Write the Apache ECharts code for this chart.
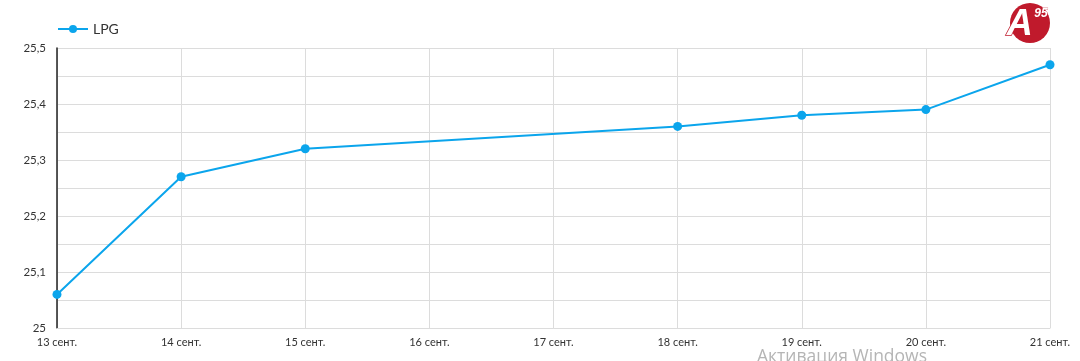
<!DOCTYPE html>
<html>
<head>
<meta charset="utf-8">
<script src="https://cdn.jsdelivr.net/npm/echarts@6/dist/echarts.min.js"></script>
<style>
html,body{margin:0;padding:0;background:#fff;}
#c{width:1080px;height:361px;}
</style>
</head>
<body>
<div id="c"></div>
<script>
var categories = ['13 сент.','14 сент.','15 сент.','16 сент.','17 сент.','18 сент.','19 сент.','20 сент.','21 сент.'];
var lpgValues = [25.06, 25.27, 25.32, null, null, 25.36, 25.38, 25.39, 25.47];
var seriesName = 'LPG';

var chart = echarts.init(document.getElementById('c'));
chart.setOption({
  animation: false,
  textStyle: {fontFamily: 'Lato, "Open Sans", sans-serif'},
  legend: {
    left: 52, top: 17,
    itemWidth: 30, itemHeight: 10,
    itemGap: 6,
    textStyle: {fontSize: 14, color: '#333', fontFamily: 'Lato, sans-serif'},
    data: [seriesName]
  },
  grid: {left: 57, right: 30, top: 48, bottom: 33, containLabel: false},
  xAxis: {
    type: 'category',
    data: categories,
    boundaryGap: false,
    axisLine: {show: true, lineStyle: {color: '#dcdcdc'}},
    axisTick: {show: false},
    axisLabel: {color: '#333', fontSize: 11, margin: 9},
    splitLine: {show: true, lineStyle: {color: '#dcdcdc', width: 1}}
  },
  yAxis: {
    type: 'value',
    min: 25, max: 25.5, interval: 0.05,
    axisLine: {show: true, lineStyle: {color: '#222', width: 1.5}},
    axisTick: {show: false},
    axisLabel: {
      color: '#333', fontSize: 11.5, margin: 11,
      formatter: function (v) {
        var r = Math.round(v * 100);
        if (r % 10 !== 0) return '';
        return String(Math.round(v * 10) / 10).replace('.', ',');
      }
    },
    splitLine: {show: true, lineStyle: {color: '#dcdcdc', width: 1}}
  },
  series: [{
    name: seriesName,
    type: 'line',
    data: lpgValues,
    connectNulls: true,
    symbol: 'circle',
    symbolSize: 9,
    itemStyle: {color: '#0ba5ec'},
    lineStyle: {color: '#0ba5ec', width: 2}
  }],
  graphic: [
    {type: 'circle', shape: {cx: 1030, cy: 23, r: 20}, style: {fill: '#c01a2c'}},
    {type: 'text', left: 1006, top: 6, style: {text: 'A', fill: '#fff', stroke: '#c01a2c', lineWidth: 1.5, font: 'italic bold 36px "Liberation Sans", Arial, sans-serif'}},
    {type: 'text', left: 1034, top: 7, style: {text: '95', fill: '#fff', stroke: '#c01a2c', lineWidth: 0.5, font: 'italic bold 12px "Liberation Sans", Arial, sans-serif'}},
    {type: 'text', left: 757, top: 348, style: {text: 'Активация Windows', fill: '#b5b5b5', font: '17.5px "Open Sans", sans-serif'}}
  ]
});
</script>
</body>
</html>
